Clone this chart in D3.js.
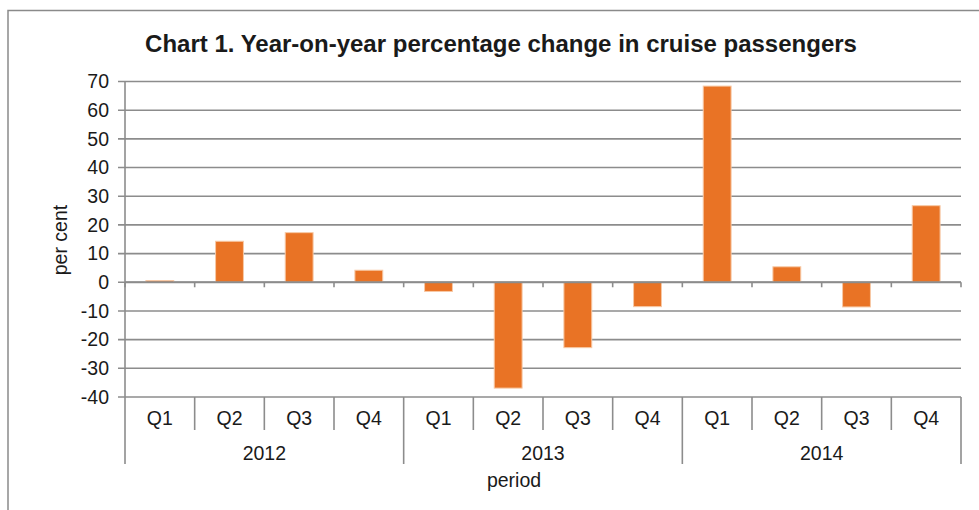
<!DOCTYPE html>
<html>
<head>
<meta charset="utf-8">
<script src="https://cdn.jsdelivr.net/npm/d3@7"></script>
<style>
  body { margin: 0; background: #fff; }
  svg text { font-family: "Liberation Sans", Arial, sans-serif; fill: #1a1a1a; }
</style>
</head>
<body>
<div id="chart"></div>
<script>
// data
const years = ["2012", "2013", "2014"];
const quarters = ["Q1", "Q2", "Q3", "Q4"];
const values = [0.6, 14.3, 17.3, 4.2, -3.2, -36.9, -22.8, -8.5, 68.4, 5.4, -8.6, 26.7];
const yTicks = [70, 60, 50, 40, 30, 20, 10, 0, -10, -20, -30, -40];

const W = 979, H = 510;
const m = { t: 81.5, r: 18, b: 113, l: 125 };
const iw = W - m.l - m.r, ih = H - m.t - m.b;
const fs = 19.5;

const periods = [];
years.forEach(y => quarters.forEach(q => periods.push({ year: y, q: q, key: y + q })));
periods.forEach((p, i) => p.value = values[i]);

const svg = d3.select("#chart").append("svg")
  .attr("width", W).attr("height", H);

// outer frame
svg.append("path")
  .attr("d", `M8,${H} V10.5 H${W}`)
  .attr("fill", "none").attr("stroke", "#8a8a8a").attr("stroke-width", 1.5);

svg.append("text")
  .attr("x", 501).attr("y", 52)
  .attr("text-anchor", "middle")
  .attr("font-size", 24).attr("font-weight", "bold")
  .text("Chart 1. Year-on-year percentage change in cruise passengers");

const g = svg.append("g").attr("transform", `translate(${m.l},${m.t})`);

const x = d3.scaleBand().domain(periods.map(d => d.key)).range([0, iw]).paddingInner(0.6).paddingOuter(0.3);
const xs = d3.scaleBand().domain(periods.map(d => d.key)).range([0, iw]);
const y = d3.scaleLinear().domain([-40, 70]).range([ih, 0]);

// gridlines
g.append("g").selectAll("line")
  .data(yTicks)
  .join("line")
  .attr("x1", -7).attr("x2", iw)
  .attr("y1", d => y(d)).attr("y2", d => y(d))
  .attr("stroke", "#8c8c8c").attr("stroke-width", 1.6);

// y tick labels
g.append("g").selectAll("text")
  .data(yTicks)
  .join("text")
  .attr("x", -16).attr("y", d => y(d))
  .attr("dy", "0.35em")
  .attr("text-anchor", "end")
  .attr("font-size", fs)
  .text(d => d);

// y axis line
g.append("line")
  .attr("x1", 0).attr("x2", 0).attr("y1", 0).attr("y2", ih)
  .attr("stroke", "#8c8c8c").attr("stroke-width", 1.6);

svg.append("text")
  .attr("transform", `translate(67, 240) rotate(-90)`)
  .attr("text-anchor", "middle")
  .attr("font-size", fs)
  .text("per cent");

// bars
g.append("g").selectAll("rect")
  .data(periods)
  .join("rect")
  .attr("x", d => x(d.key))
  .attr("width", x.bandwidth())
  .attr("y", d => y(Math.max(0, d.value)))
  .attr("height", d => Math.abs(y(d.value) - y(0)))
  .attr("fill", "#e97325")
  .attr("stroke", "#f7c9a6").attr("stroke-width", 1);

// zero axis with small ticks
g.append("line")
  .attr("x1", 0).attr("x2", iw).attr("y1", y(0)).attr("y2", y(0))
  .attr("stroke", "#8c8c8c").attr("stroke-width", 1.8);
g.append("g").selectAll("line")
  .data(d3.range(periods.length + 1))
  .join("line")
  .attr("x1", i => i * xs.step()).attr("x2", i => i * xs.step())
  .attr("y1", y(0)).attr("y2", y(0) + 5)
  .attr("stroke", "#8c8c8c").attr("stroke-width", 1.6);

// category axis below
const cat = g.append("g").attr("transform", `translate(0,${ih})`);
cat.selectAll("line")
  .data(d3.range(periods.length + 1))
  .join("line")
  .attr("x1", i => i * xs.step()).attr("x2", i => i * xs.step())
  .attr("y1", 0)
  .attr("y2", i => i % 4 === 0 ? 67 : 33)
  .attr("stroke", "#8c8c8c").attr("stroke-width", 1.6);

cat.selectAll("text.q")
  .data(periods)
  .join("text")
  .attr("class", "q")
  .attr("x", d => xs(d.key) + xs.bandwidth() / 2)
  .attr("y", 28)
  .attr("text-anchor", "middle")
  .attr("font-size", fs)
  .text(d => d.q);

cat.selectAll("text.yr")
  .data(years)
  .join("text")
  .attr("class", "yr")
  .attr("x", (d, i) => (i * 4 + 2) * xs.step())
  .attr("y", 63)
  .attr("text-anchor", "middle")
  .attr("font-size", fs)
  .text(d => d);

svg.append("text")
  .attr("x", 514).attr("y", 487)
  .attr("text-anchor", "middle")
  .attr("font-size", fs)
  .text("period");
</script>
</body>
</html>
